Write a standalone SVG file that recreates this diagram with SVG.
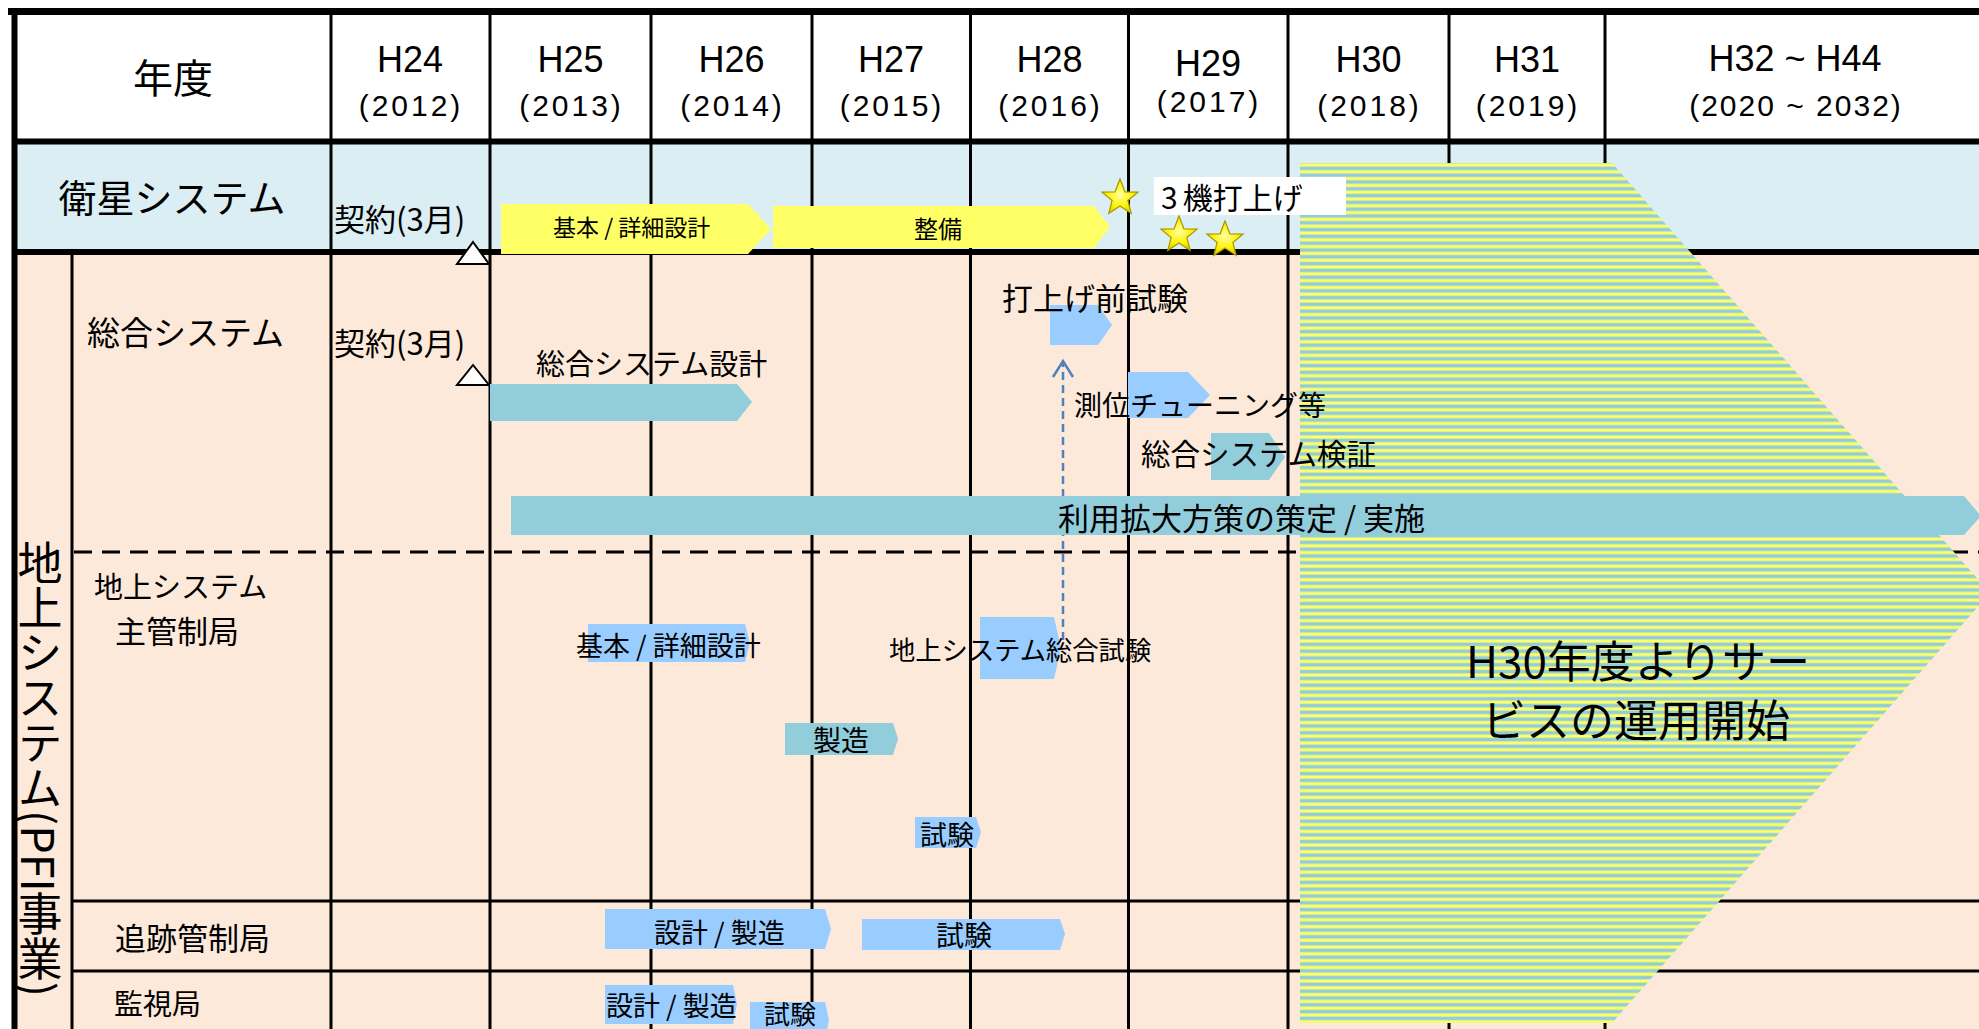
<svg xmlns="http://www.w3.org/2000/svg" width="1979" height="1029" viewBox="0 0 1979 1029">
<defs>
<style>
.g{stroke:#000;stroke-width:3;fill:none}
.tk{stroke:#000;stroke-width:6;fill:none}
.dash{stroke:#000;stroke-width:3;stroke-dasharray:18 10;fill:none}
.lat{font-family:"Liberation Sans",Arial,sans-serif;fill:#000}
.jp{font-family:"Noto Sans CJK JP","Liberation Sans",sans-serif;fill:#000}
.mid{text-anchor:middle}
.bar{fill:#92CDDC}
.lb{fill:#99CCFF}
.yl{fill:#FFFF66}
.tri{fill:#fff;stroke:#000;stroke-width:2}
.star{fill:url(#starGrad);stroke:#A89600;stroke-width:1.2}
</style>
<pattern id="stripes" patternUnits="userSpaceOnUse" x="0" y="163" width="20" height="6.8">
<rect width="20" height="6.8" fill="#92CDDC"/>
<rect y="0.4" width="20" height="3.2" fill="#FFFF66"/>
</pattern>
<radialGradient id="starGrad" cx="0.5" cy="0.45" r="0.6">
<stop offset="0" stop-color="#FFFFA0"/>
<stop offset="0.6" stop-color="#FFF200"/>
<stop offset="1" stop-color="#D9C400"/>
</radialGradient>
<path id="star" d="M0,-19 L4.9,-6.2 L18.1,-5.9 L7.9,2.5 L11.2,15.4 L0,8 L-11.2,15.4 L-7.9,2.5 L-18.1,-5.9 L-4.9,-6.2 Z"/>
</defs>

<g id="backgrounds">
<rect x="14" y="12" width="1965" height="129" fill="#FFFFFF"/>
<rect x="14" y="141" width="1965" height="111" fill="#DAEEF3"/>
<rect x="14" y="252" width="1965" height="777" fill="#FDE9D9"/>
</g>

<g id="grid">
<line class="g" x1="331" y1="12" x2="331" y2="1029"/>
<line class="g" x1="490" y1="12" x2="490" y2="1029"/>
<line class="g" x1="651" y1="12" x2="651" y2="1029"/>
<line class="g" x1="812" y1="12" x2="812" y2="1029"/>
<line class="g" x1="970.5" y1="12" x2="970.5" y2="1029"/>
<line class="g" x1="1128.5" y1="12" x2="1128.5" y2="1029"/>
<line class="g" x1="1288" y1="12" x2="1288" y2="1029"/>
<line class="g" x1="1449" y1="12" x2="1449" y2="1029"/>
<line class="g" x1="1605" y1="12" x2="1605" y2="1029"/>
<line class="g" x1="72" y1="252" x2="72" y2="1029"/>
<line class="dash" x1="74" y1="552" x2="1979" y2="552"/>
<line class="g" x1="72" y1="901" x2="1979" y2="901"/>
<line class="g" x1="72" y1="971" x2="1979" y2="971"/>
<line stroke="#000" stroke-width="7" x1="8" y1="11.5" x2="1979" y2="11.5"/>
<line class="tk" x1="14" y1="141.5" x2="1979" y2="141.5"/>
<line class="tk" x1="14" y1="252" x2="1979" y2="252"/>
<line class="tk" x1="14.5" y1="8" x2="14.5" y2="1029"/>
</g>

<g id="header">
<text class="jp mid" x="173" y="93" font-size="40">年度</text>
<g class="lat mid" font-size="36">
<text x="410" y="72">H24</text>
<text x="570.5" y="72">H25</text>
<text x="731.5" y="72">H26</text>
<text x="891" y="72">H27</text>
<text x="1049.5" y="72">H28</text>
<text x="1208" y="76">H29</text>
<text x="1368.5" y="72">H30</text>
<text x="1527" y="72">H31</text>
<text x="1795" y="71">H32 ~ H44</text>
</g>
<g class="lat mid" font-size="30" letter-spacing="3">
<text x="411" y="116">(2012)</text>
<text x="571.5" y="116">(2013)</text>
<text x="732.5" y="116">(2014)</text>
<text x="892" y="116">(2015)</text>
<text x="1050.5" y="116">(2016)</text>
<text x="1209" y="112">(2017)</text>
<text x="1369.5" y="116">(2018)</text>
<text x="1528" y="116">(2019)</text>
<text x="1796" y="116" letter-spacing="2">(2020 ~ 2032)</text>
</g>
</g>

<g id="service-period">
<polygon points="1300,163 1612,163 1990,593 1612,1023 1300,1023" fill="url(#stripes)"/>
<text class="jp" x="1466" y="678" font-size="44">H30年度よりサー</text>
<text class="jp" x="1482" y="737" font-size="44">ビスの運用開始</text>
</g>

<g id="row-labels">
<text class="jp mid" x="172" y="212" font-size="38">衛星システム</text>
<text class="jp" x="40" y="540" font-size="45" writing-mode="vertical-rl">地上システム(PFI事業)</text>
<text class="jp" x="87" y="345" font-size="33">総合システム</text>
<text class="jp" x="94" y="598" font-size="29">地上システム</text>
<text class="jp" x="115" y="643" font-size="31">主管制局</text>
<text class="jp" x="115" y="950" font-size="31">追跡管制局</text>
<text class="jp" x="114" y="1015" font-size="29">監視局</text>
</g>

<g id="connectors">
<line x1="1063" y1="640" x2="1063" y2="364" stroke="#4F81BD" stroke-width="2.5" stroke-dasharray="8 5"/>
<polyline points="1053,377 1063,361 1073,377" fill="none" stroke="#4F81BD" stroke-width="2.5"/>
</g>

<g id="sat-contract">
<text class="jp" x="334" y="231" font-size="31">契約(3月)</text>
<polygon class="tri" points="473,242 489,264 457,264"/>
</g>
<g id="sat-design">
<polygon class="yl" points="501,204 748,204 771,229 748,254 501,254"/>
<text class="jp" x="553" y="236" font-size="23">基本 / 詳細設計</text>
</g>
<g id="sat-build">
<polygon class="yl" points="773,206 1094,206 1110,227 1094,248 773,248"/>
<text class="jp mid" x="938" y="238" font-size="24">整備</text>
</g>
<g id="sat-launch">
<rect x="1154" y="177" width="192" height="38" fill="#FFFFFF"/>
<text class="jp" x="1161" y="209" font-size="30">3<tspan dx="5">機打上げ</tspan></text>
<use href="#star" class="star" x="1120" y="198"/>
<use href="#star" class="star" x="1179" y="235"/>
<use href="#star" class="star" x="1225" y="240"/>
</g>

<g id="gs-contract">
<text class="jp" x="334" y="355" font-size="31">契約(3月)</text>
<polygon class="tri" points="473,365 489,385 457,385"/>
</g>
<g id="gs-design">
<polygon class="bar" points="490,384 737,384 752,402 737,421 490,421"/>
<text class="jp" x="536" y="375" font-size="29">総合システム設計</text>
</g>
<g id="gs-utilization">
<polygon class="bar" points="511,496 1964,496 1981,516 1964,535 511,535"/>
<text class="jp" x="1058" y="530" font-size="31">利用拡大方策の策定 / 実施</text>
</g>
<g id="gs-prelaunch">
<polygon class="lb" points="1050,305 1098,305 1112,325 1098,345 1050,345"/>
<text class="jp" x="1002" y="310" font-size="31">打上げ前試験</text>
</g>
<g id="gs-tuning">
<polygon class="lb" points="1128,372 1188,372 1210,395 1188,418 1128,418"/>
<text class="jp" x="1074" y="416" font-size="28">測位チューニング等</text>
</g>
<g id="gs-verify">
<polygon class="bar" points="1211,433 1269,433 1285,457 1269,480 1211,480"/>
<text class="jp" x="1141" y="465" font-size="29.5">総合システム検証</text>
</g>

<g id="mcs-design">
<polygon class="lb" points="588,624 745,624 750,643 745,662 588,662"/>
<text class="jp" x="576" y="656" font-size="27">基本 / 詳細設計</text>
</g>
<g id="mcs-integration">
<polygon class="lb" points="980,617 1054,617 1061,648 1054,679 980,679"/>
<text class="jp" x="889" y="660" font-size="26.3">地上システム総合試験</text>
</g>
<g id="mcs-manufacture">
<polygon class="bar" points="785,723 893,723 898,739 893,755 785,755"/>
<text class="jp" x="813" y="751" font-size="28">製造</text>
</g>
<g id="mcs-test">
<polygon class="lb" points="915,817 976,817 981,832 976,848 915,848"/>
<text class="jp" x="920" y="845" font-size="27">試験</text>
</g>

<g id="tcs-build">
<polygon class="lb" points="605,909 825,909 831,929 825,949 605,949"/>
<text class="jp" x="654" y="943" font-size="27">設計 / 製造</text>
</g>
<g id="tcs-test">
<polygon class="lb" points="862,919 1060,919 1065,934 1060,950 862,950"/>
<text class="jp" x="936" y="946" font-size="28">試験</text>
</g>

<g id="mon-build">
<polygon class="lb" points="605,985 733,985 737,1004 733,1024 605,1024"/>
<text class="jp" x="606" y="1016" font-size="27">設計 / 製造</text>
</g>
<g id="mon-test">
<polygon class="lb" points="750,1002 825,1002 829,1020 825,1040 750,1040"/>
<text class="jp" x="764" y="1024" font-size="26">試験</text>
</g>
</svg>
